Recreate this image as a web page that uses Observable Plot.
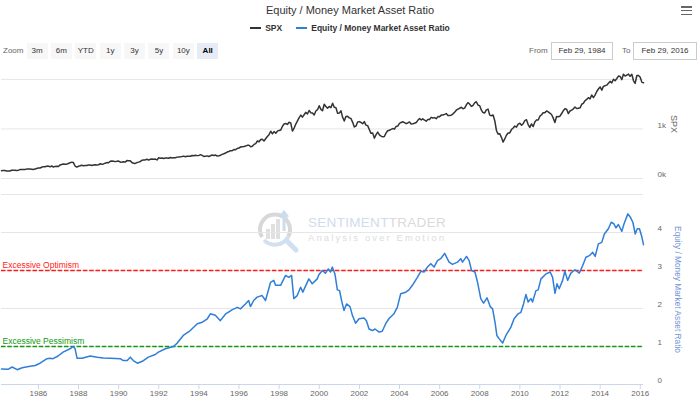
<!DOCTYPE html>
<html><head><meta charset="utf-8">
<script src="https://cdn.jsdelivr.net/npm/d3@7"></script>
<script src="https://cdn.jsdelivr.net/npm/@observablehq/plot@0.6"></script>
<style>
body{margin:0;background:#fff;font-family:"Liberation Sans",Arial,sans-serif;}
#wrap{position:relative;width:700px;height:402px;overflow:hidden;background:#fff;}
.abs{position:absolute;}
#title{left:0;top:3px;width:700px;text-align:center;font-size:11px;line-height:14px;color:#333;}
#legend{left:0;top:22px;width:700px;display:flex;justify-content:center;font-size:8.5px;font-weight:bold;color:#333;line-height:12px;}
.li{display:flex;align-items:center;margin:0 7px;}
.sym{display:inline-block;width:11px;height:2px;margin-right:4px;}
#zoomlbl{left:3px;top:45px;font-size:8px;color:#666;line-height:12px;}
#btns{left:26.5px;top:43px;display:flex;}
.btn{width:21px;height:16px;margin-right:3.4px;background:#f7f7f7;font-size:8px;color:#333;text-align:center;line-height:16px;}
.btn.sel{background:#e6ebf5;font-weight:bold;color:#000;}
.rl{font-size:8px;color:#666;line-height:12px;top:45px;}
.rbox{top:42px;height:16px;border:1px solid #ccc;font-size:8px;color:#333;text-align:center;line-height:16px;background:#fff;}
#menu{left:681px;top:6px;width:11px;}
#menu div{height:1.6px;background:#666;margin-bottom:2.2px;}
#wm1{left:308px;top:214px;font-size:13.5px;letter-spacing:0.3px;line-height:18px;color:#d0dcec;}
#wm2{left:308px;top:232px;font-size:9.5px;letter-spacing:2.1px;line-height:12px;color:#dcdcdc;}
svg.plotsvg{position:absolute;left:0;}
</style></head><body><div id="wrap">
<div id="title" class="abs"></div>
<div id="legend" class="abs"></div>
<div id="zoomlbl" class="abs">Zoom</div>
<div id="btns" class="abs"></div>
<div id="fromlbl" class="abs rl" style="left:529px">From</div>
<div id="frombox" class="abs rbox" style="left:551px;width:60px"></div>
<div id="tolbl" class="abs rl" style="left:622px">To</div>
<div id="tobox" class="abs rbox" style="left:633px;width:62px"></div>
<div id="menu" class="abs"><div></div><div></div><div></div></div>
<svg class="abs" style="left:252px;top:207px" width="50" height="46" viewBox="0 0 50 46">
  <path d="M10 30 A15 15 0 1 1 36 30" fill="none" stroke="#d8d8d8" stroke-width="4"/>
  <path d="M36 30 A15 15 0 0 1 12 33" fill="none" stroke="#d3e0ef" stroke-width="4"/>
  <rect x="14" y="22" width="4" height="10" fill="#e0e0e0"/>
  <rect x="19" y="17" width="4" height="15" fill="#e0e0e0"/>
  <rect x="24" y="12" width="4" height="20" fill="#e0e0e0"/>
  <path d="M32 6 l0 18" stroke="#cbdcee" stroke-width="3"/>
  <path d="M28 10 l4 -5 l4 5" fill="none" stroke="#cbdcee" stroke-width="2.5"/>
  <path d="M35 34 L44 43" stroke="#cfe0f0" stroke-width="5" stroke-linecap="round"/>
</svg>
<div id="wm1" class="abs"><span>SENTIMENT</span><span style="color:#dadada">TRADER</span></div>
<div id="wm2" class="abs">Analysis over Emotion</div>
</div>
<script>
// ---------- texts ----------
const chartTitle = "Equity / Money Market Asset Ratio";
const seriesNames = ["SPX", "Equity / Money Market Asset Ratio"];
const seriesColors = ["#333333", "#2f7ed8"];
const zoomButtons = ["3m", "6m", "YTD", "1y", "3y", "5y", "10y", "All"];
const rangeFrom = "Feb 29, 1984";
const rangeTo = "Feb 29, 2016";
const plotLineLabels = ["Excessive Optimism", "Excessive Pessimism"];
const plotLineLevels = [3, 1];
const plotLineColors = ["#ff1a1a", "#119911"];

// ---------- axes ----------
const spxTickValues = [0, 1000];
const spxGridValues = [0, 1000, 2000];
const ratioTickValues = [0, 1, 2, 3, 4];
const ratioGridValues = [1, 2, 3, 4, 5];
const xTickYears = [1986, 1988, 1990, 1992, 1994, 1996, 1998, 2000, 2002, 2004, 2006, 2008, 2010, 2012, 2014, 2016];

// ---------- SPX monthly closes, Feb 1984 .. Feb 2016 ----------
const spxStartYear = 1984, spxStartMonth = 1; // February (0-based)
const spxClose = [
 157.1,159.2,160.1,150.6,153.2,150.7,166.7,166.1,166.1,163.6,167.2,
 179.6,181.2,180.7,179.8,189.6,191.9,190.9,188.6,182.1,189.8,202.2,211.3,
 211.8,226.9,238.9,235.5,247.4,250.8,236.1,252.9,231.3,244.0,249.2,242.2,
 274.1,284.2,291.7,288.4,290.1,304.0,318.7,329.8,321.8,251.8,230.3,247.1,
 257.1,267.8,258.9,261.3,262.2,273.5,272.0,261.5,271.9,279.0,273.7,277.7,
 297.5,288.9,294.9,309.6,320.5,318.0,346.1,351.5,349.2,340.4,346.0,353.4,
 329.1,331.9,339.9,330.8,361.2,358.0,356.2,322.6,306.1,304.0,322.2,330.2,
 343.9,367.1,375.2,375.3,389.8,371.2,387.8,395.4,387.9,392.5,375.2,417.1,
 408.8,412.7,403.7,415.0,415.4,408.1,424.2,414.0,417.8,418.7,431.4,435.7,
 438.8,443.4,451.7,440.2,450.2,450.5,448.1,463.6,458.9,467.8,461.8,466.5,
 481.6,467.1,445.8,450.9,456.5,444.3,458.3,475.5,462.7,472.4,453.7,459.3,
 470.4,487.4,500.7,514.7,533.4,544.8,562.1,561.9,584.4,581.5,605.4,615.9,
 636.0,640.4,645.5,654.2,669.1,670.6,640.0,652.0,687.3,705.3,757.0,740.7,
 786.2,790.8,757.1,801.3,848.3,885.1,954.3,899.5,947.3,914.6,955.4,970.4,
 980.3,1049.3,1101.8,1111.8,1090.8,1133.8,1120.7,957.3,1017.0,1098.7,1163.6,1229.2,
 1279.6,1238.3,1286.4,1335.2,1301.8,1372.7,1328.7,1320.4,1282.7,1362.9,1388.9,1469.3,
 1394.5,1366.4,1498.6,1452.4,1420.6,1454.6,1430.8,1517.7,1436.5,1429.4,1315.2,1320.3,
 1366.0,1239.9,1160.3,1249.5,1255.8,1224.4,1211.2,1133.6,1040.9,1059.8,1139.5,1148.1,
 1130.2,1106.7,1147.4,1076.9,1067.1,989.8,911.6,916.1,815.3,885.8,936.3,879.8,
 855.7,841.2,848.2,916.9,963.6,974.5,990.3,1008.0,996.0,1050.7,1058.2,1111.9,
 1131.1,1144.9,1126.2,1107.3,1120.7,1140.8,1101.7,1104.2,1114.6,1130.2,1173.8,1211.9,
 1181.3,1203.6,1180.6,1156.9,1191.5,1191.3,1234.2,1220.3,1228.8,1207.0,1249.5,1248.3,
 1280.1,1280.7,1294.9,1310.6,1270.1,1270.2,1276.7,1303.8,1335.9,1377.9,1400.6,1418.3,
 1438.2,1406.8,1420.9,1482.4,1530.6,1503.4,1455.3,1474.0,1526.8,1549.4,1481.1,1468.4,
 1378.6,1330.6,1322.7,1385.6,1400.4,1280.0,1267.4,1282.8,1166.4,968.8,896.2,903.3,
 825.9,735.1,797.9,872.8,919.1,919.3,987.5,1020.6,1057.1,1036.2,1095.6,1115.1,
 1073.9,1104.5,1169.4,1186.7,1089.4,1030.7,1101.6,1049.3,1141.2,1183.3,1180.6,1257.6,
 1286.1,1327.2,1325.8,1363.6,1345.2,1320.6,1292.3,1218.9,1131.4,1253.3,1247.0,1257.6,
 1312.4,1365.7,1408.5,1397.9,1310.3,1362.2,1379.3,1406.6,1440.7,1412.2,1416.2,1426.2,
 1498.1,1514.7,1569.2,1597.6,1630.7,1606.3,1685.7,1633.0,1681.6,1756.5,1805.8,1848.4,
 1782.6,1859.5,1872.3,1884.0,1923.6,1960.2,1930.7,2003.4,1972.3,2018.1,2067.6,2058.9,
 1995.0,2104.5,2067.9,2085.5,2107.4,2063.1,2103.8,1972.2,1920.0,2079.4,2080.4,2043.9,
 1940.2,1932.2
];

// ---------- Equity / Money Market ratio (decimal year, value) ----------
const ratioYear = [
 1984.16,1984.49,1984.69,1984.94,1985.19,1985.59,1985.84,1986.08,1986.43,1986.58,1986.73,1986.98,
 1987.23,1987.58,1987.73,1987.83,1987.93,1988.18,1988.58,1988.93,1989.23,1989.58,1990.08,1990.23,
 1990.43,1990.58,1990.73,1990.93,1991.18,1991.48,1991.83,1991.98,1992.33,1992.73,1992.92,1993.22,
 1993.57,1993.92,1994.17,1994.42,1994.57,1994.82,1995.07,1995.32,1995.67,1995.92,1996.07,1996.32,
 1996.48,1996.57,1996.73,1996.90,1997.15,1997.32,1997.57,1997.73,1997.82,1998.07,1998.32,1998.48,
 1998.62,1998.73,1998.90,1999.07,1999.18,1999.48,1999.65,1999.90,1999.98,2000.15,2000.31,2000.45,
 2000.56,2000.65,2000.78,2000.90,2001.01,2001.11,2001.23,2001.36,2001.53,2001.65,2001.81,2001.98,
 2002.23,2002.35,2002.48,2002.65,2002.78,2002.98,2003.14,2003.31,2003.47,2003.72,2003.89,2004.06,
 2004.31,2004.47,2004.64,2004.89,2005.06,2005.22,2005.39,2005.56,2005.72,2005.89,2006.05,2006.25,
 2006.47,2006.64,2006.89,2007.05,2007.14,2007.34,2007.47,2007.59,2007.76,2007.89,2008.05,2008.19,
 2008.36,2008.52,2008.64,2008.77,2008.85,2008.97,2009.14,2009.30,2009.55,2009.71,2009.91,2010.05,
 2010.18,2010.30,2010.41,2010.55,2010.63,2010.80,2010.91,2011.05,2011.30,2011.51,2011.63,2011.75,
 2011.85,2011.96,2012.13,2012.24,2012.38,2012.54,2012.74,2012.96,2013.13,2013.29,2013.46,2013.63,
 2013.75,2013.91,2014.08,2014.21,2014.41,2014.55,2014.68,2014.79,2014.91,2015.08,2015.18,2015.38,
 2015.51,2015.63,2015.75,2015.85,2015.96,2016.08,2016.16
];
const ratioValue = [
 0.41,0.40,0.46,0.39,0.44,0.48,0.50,0.56,0.68,0.69,0.68,0.75,
 0.85,0.94,1.00,0.94,0.69,0.69,0.75,0.72,0.70,0.69,0.68,0.63,
 0.63,0.72,0.63,0.56,0.61,0.72,0.79,0.85,0.94,1.00,1.09,1.29,
 1.42,1.60,1.64,1.73,1.86,1.82,1.68,1.85,1.97,2.03,1.99,2.12,
 2.21,2.05,2.21,2.30,2.34,2.21,2.69,2.74,2.61,2.61,2.87,2.82,
 2.87,2.26,2.34,2.56,2.43,2.78,2.65,2.78,2.89,3.00,2.93,3.04,
 2.96,3.09,2.91,2.49,2.47,2.21,1.95,2.12,2.05,1.82,1.61,1.73,
 1.75,1.68,1.46,1.42,1.46,1.38,1.40,1.60,1.73,1.86,2.03,2.39,
 2.43,2.49,2.61,2.82,2.98,2.96,3.09,3.18,3.09,3.26,3.31,3.45,
 3.22,3.16,3.22,3.31,3.22,3.37,3.26,3.00,2.96,2.69,2.26,2.14,
 2.28,2.05,1.99,1.60,1.29,1.20,1.09,1.29,1.51,1.73,1.86,1.90,
 2.12,2.37,2.17,2.26,2.17,2.47,2.49,2.78,2.91,2.96,2.82,2.40,
 2.65,2.52,2.74,2.98,2.74,2.93,3.02,2.93,3.13,3.35,3.39,3.48,
 3.37,3.70,3.74,3.96,4.10,4.27,4.23,4.12,4.21,4.03,4.21,4.49,
 4.40,4.27,3.96,4.10,4.10,3.88,3.68
];

// ---------- build ----------
const FONT = '"Liberation Sans", Arial, sans-serif';
document.getElementById("title").textContent = chartTitle;
const leg = document.getElementById("legend");
seriesNames.forEach((n, i) => {
  const d = document.createElement("div"); d.className = "li";
  const s = document.createElement("span"); s.className = "sym"; s.style.background = seriesColors[i];
  d.appendChild(s); d.appendChild(document.createTextNode(n)); leg.appendChild(d);
});
const bt = document.getElementById("btns");
zoomButtons.forEach((b, i) => {
  const d = document.createElement("div"); d.className = "btn" + (i === zoomButtons.length - 1 ? " sel" : "");
  d.textContent = b; bt.appendChild(d);
});
document.getElementById("frombox").textContent = rangeFrom;
document.getElementById("tobox").textContent = rangeTo;

function yearToDate(y) {
  const yi = Math.floor(y); const a = Date.UTC(yi, 0, 1), b = Date.UTC(yi + 1, 0, 1);
  return new Date(a + (y - yi) * (b - a));
}
const xDomain = [new Date(Date.UTC(1984, 1, 29)), new Date(Date.UTC(2016, 1, 29))];
const spxData = spxClose.map((v, i) => ({date: new Date(Date.UTC(spxStartYear, spxStartMonth + i + 1, 0)), v}));
const ratioData = ratioValue.map((v, i) => ({date: yearToDate(ratioYear[i]), v}));
const xTicks = xTickYears.map(y => new Date(Date.UTC(y, 0, 1)));

const common = {width: 700, marginLeft: 1, marginRight: 57,
  style: {fontFamily: FONT, fontSize: "8px", background: "transparent", overflow: "visible", color: "#666"}};

const topPlot = Plot.plot({
  ...common, height: 128, marginTop: 7, marginBottom: 12,
  x: {domain: xDomain, axis: null},
  y: {domain: [0, 2200], axis: null},
  marks: [
    Plot.gridY(spxGridValues, {stroke: "#e6e6e6", strokeOpacity: 1}),
    Plot.axisY(spxTickValues, {anchor: "right", tickSize: 0, tickPadding: 14, dy: -4, fill: "#666", label: null, tickFormat: d => d / 1000 + "k"}),
    Plot.lineY(spxData, {x: "date", y: "v", stroke: seriesColors[0], strokeWidth: 1.5}),
    Plot.text([seriesNames[0]], {frameAnchor: "right", dx: 30, rotate: 90, textAnchor: "middle", fill: "#666", fontSize: 9})
  ]
});
topPlot.classList.add("plotsvg"); topPlot.style.top = "62px";

const lineLabelData = plotLineLabels.map((t, i) => ({t, v: plotLineLevels[i], c: plotLineColors[i]}));
const botPlot = Plot.plot({
  ...common, height: 212, marginTop: 4, marginBottom: 18,
  x: {domain: xDomain, axis: null},
  y: {domain: [0, 5], axis: null},
  marks: [
    Plot.gridY(ratioGridValues, {stroke: "#e6e6e6", strokeOpacity: 1}),
    Plot.ruleY([0], {stroke: "#ccd6eb"}),
    Plot.axisX(xTicks, {anchor: "bottom", tickSize: 5, tickPadding: 1, stroke: "#ccd6eb", fill: "#666", label: null, tickFormat: d => String(d.getUTCFullYear())}),
    Plot.axisY(ratioTickValues, {anchor: "right", tickSize: 0, tickPadding: 14, dy: -4, fill: "#666", label: null}),
    Plot.ruleY(lineLabelData, {y: "v", stroke: "c", strokeWidth: 1.5, strokeDasharray: "4.5,1.8"}),
    Plot.text(lineLabelData, {y: "v", text: "t", fill: "c", frameAnchor: "left", textAnchor: "start", dx: 1, dy: -5, fontSize: 8.5}),
    Plot.lineY(ratioData, {x: "date", y: "v", stroke: seriesColors[1], strokeWidth: 1.5}),
    Plot.text([seriesNames[1]], {frameAnchor: "right", dx: 34, rotate: 90, textAnchor: "middle", fill: "#7493d6", fontSize: 8.3})
  ]
});
botPlot.classList.add("plotsvg"); botPlot.style.top = "190px";

const wrap = document.getElementById("wrap");
wrap.appendChild(topPlot);
wrap.appendChild(botPlot);
</script>
</body></html>
